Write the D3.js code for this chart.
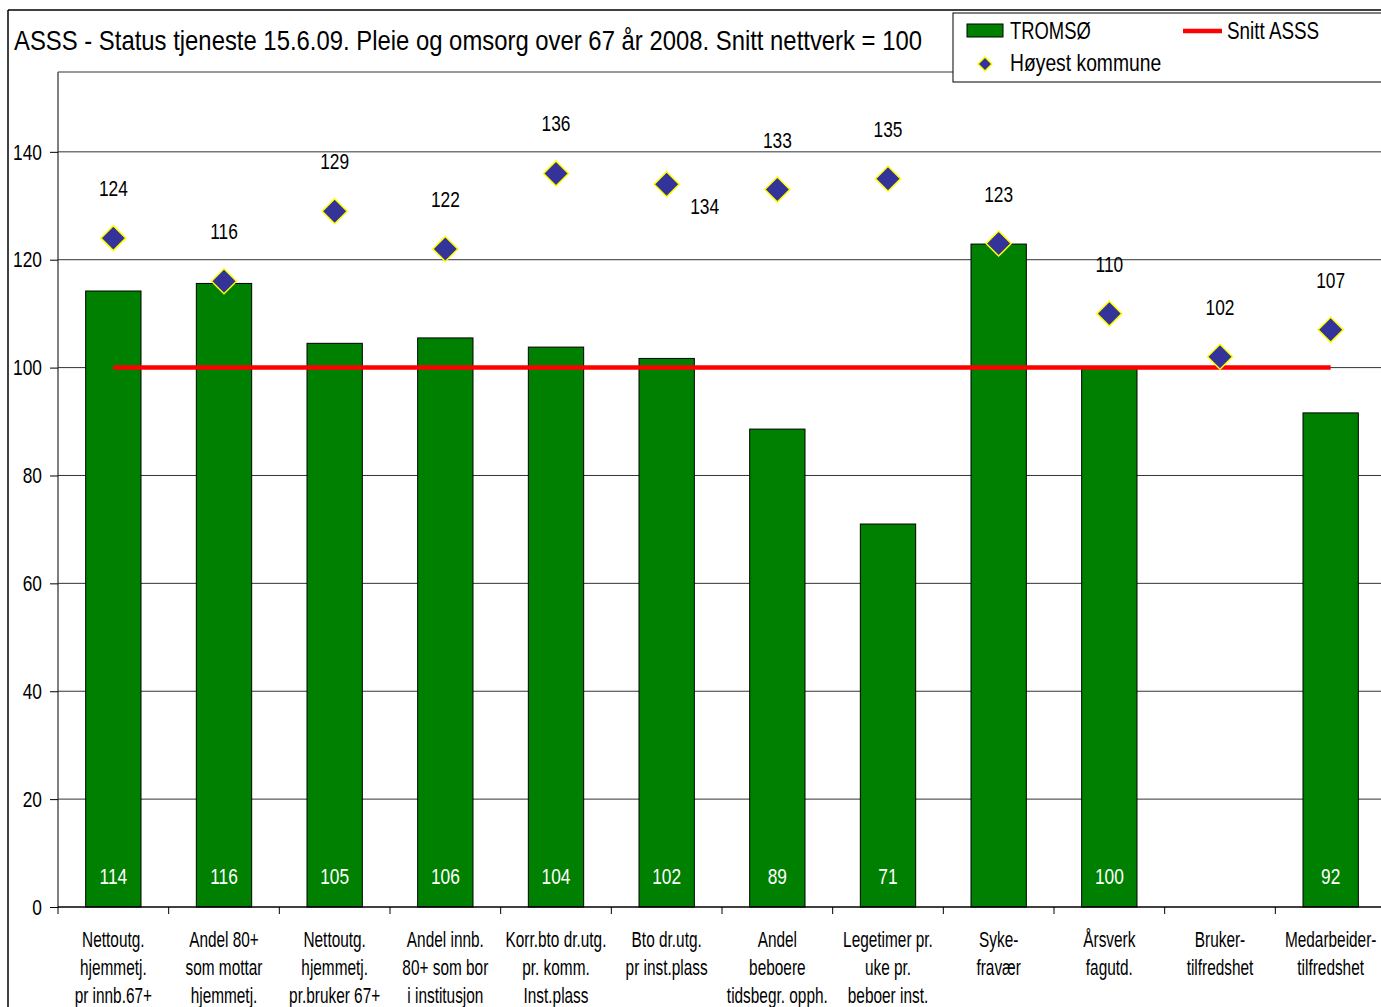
<!DOCTYPE html>
<html>
<head>
<meta charset="utf-8">
<script src="https://cdn.jsdelivr.net/npm/d3@7"></script>
<style>
  body { margin: 0; background: #fff; }
  svg { display: block; font-family: "Liberation Sans", Arial, sans-serif; }
  .grid line { stroke: #333; stroke-width: 1px; }
  .bar { fill: #008000; stroke: #000; stroke-width: 1px; }
  .marker { fill: #333399; stroke: #ffff00; stroke-width: 1.5px; }
</style>
</head>
<body>
<svg id="chart" width="1381" height="1007"></svg>
<script>
var title = "ASSS - Status tjeneste 15.6.09. Pleie og omsorg over 67 år 2008. Snitt nettverk = 100";

var categories = [
  ["Nettoutg.", "hjemmetj.", "pr innb.67+"],
  ["Andel 80+", "som mottar", "hjemmetj."],
  ["Nettoutg.", "hjemmetj.", "pr.bruker 67+"],
  ["Andel innb.", "80+ som bor", "i institusjon"],
  ["Korr.bto dr.utg.", "pr. komm.", "Inst.plass"],
  ["Bto dr.utg.", "pr inst.plass"],
  ["Andel", "beboere", "tidsbegr. opph."],
  ["Legetimer pr.", "uke pr.", "beboer inst."],
  ["Syke-", "fravær"],
  ["Årsverk", "fagutd."],
  ["Bruker-", "tilfredshet"],
  ["Medarbeider-", "tilfredshet"]
];

// TROMSØ (null = no bar)
var tromso = [114.2, 115.6, 104.5, 105.5, 103.8, 101.7, 88.6, 71.0, 122.9, 99.9, null, 91.6];
// show value label inside bar?
var tromsoLabel = [true, true, true, true, true, true, true, true, false, true, false, true];
// Høyest kommune
var hoyest = [124, 116, 129, 122, 136, 134, 133, 135, 123, 110, 102, 107];
// Snitt ASSS
var snitt = 100;
var yTicks = [0, 20, 40, 60, 80, 100, 120, 140];

var svg = d3.select("#chart");

var plot = { left: 58, top: 72, right: 1386, bottom: 907 };

var x = d3.scaleBand()
    .domain(d3.range(categories.length))
    .range([plot.left, plot.right])
    .paddingInner(0.5)
    .paddingOuter(0.25);

var xStep = d3.scaleBand()
    .domain(d3.range(categories.length))
    .range([plot.left, plot.right]);

var y = d3.scaleLinear().domain([0, 154.8]).range([plot.bottom, plot.top]);

function cx(i) { return x(i) + x.bandwidth() / 2; }

// narrow text helper (no Arial Narrow installed): scaleX via transform
function ntext(parent, px, py, str, size, anchor, sx) {
  return parent.append("text")
      .attr("transform", "translate(" + px + "," + py + ") scale(" + sx + ",1)")
      .attr("text-anchor", anchor || "start")
      .attr("font-size", size)
      .attr("fill", "#000")
      .text(str);
}

// outer chart border
svg.append("line").attr("x1", 8).attr("x2", 8).attr("y1", 10).attr("y2", 1007)
    .attr("stroke", "#000").attr("stroke-width", 1.5);
svg.append("line").attr("x1", 8).attr("x2", 1381).attr("y1", 10).attr("y2", 10)
    .attr("stroke", "#000").attr("stroke-width", 1.5);

// title
svg.append("text")
    .attr("x", 14).attr("y", 50)
    .attr("font-size", 28.5)
    .attr("textLength", 908)
    .attr("lengthAdjust", "spacingAndGlyphs")
    .attr("fill", "#000")
    .text(title);

// plot area border
svg.append("line").attr("x1", plot.left).attr("x2", 1381).attr("y1", plot.top).attr("y2", plot.top)
    .attr("stroke", "#777").attr("stroke-width", 1.5);
svg.append("line").attr("x1", plot.left).attr("x2", plot.left).attr("y1", plot.top).attr("y2", plot.bottom)
    .attr("stroke", "#555").attr("stroke-width", 1.5);

// gridlines
svg.append("g").attr("class", "grid")
  .selectAll("line").data(yTicks.filter(function(d) { return d > 0; })).enter()
  .append("line")
    .attr("x1", plot.left).attr("x2", 1381)
    .attr("y1", function(d) { return y(d); })
    .attr("y2", function(d) { return y(d); });

// y axis
var yAxis = d3.axisLeft(y).tickValues(yTicks).tickSize(8).tickPadding(8);
var gy = svg.append("g").attr("transform", "translate(" + plot.left + ",0)").call(yAxis);
gy.select(".domain").remove();
gy.selectAll(".tick line").attr("stroke", "#000");
gy.selectAll(".tick text")
    .attr("font-size", 22.5).attr("fill", "#000")
    .attr("font-family", "'Liberation Sans', Arial, sans-serif")
    .attr("x", -16 / 0.77)
    .attr("transform", "scale(0.77,1)");

// bars
svg.append("g").selectAll("rect")
    .data(tromso.map(function(v, i) { return { v: v, i: i }; }).filter(function(d) { return d.v !== null; }))
  .enter().append("rect")
    .attr("class", "bar")
    .attr("x", function(d) { return x(d.i); })
    .attr("width", x.bandwidth())
    .attr("y", function(d) { return y(d.v); })
    .attr("height", function(d) { return y(0) - y(d.v); });

// bar labels
var barLab = svg.append("g");
tromso.forEach(function(v, i) {
  if (v === null || !tromsoLabel[i]) return;
  ntext(barLab, cx(i), 884, Math.round(v), 22.5, "middle", 0.77).attr("fill", "#fff");
});

// x axis
svg.append("line").attr("x1", plot.left).attr("x2", 1381).attr("y1", plot.bottom).attr("y2", plot.bottom)
    .attr("stroke", "#000").attr("stroke-width", 1.5);
svg.append("g").selectAll("line")
    .data(d3.range(categories.length + 1))
  .enter().append("line")
    .attr("x1", function(i) { return plot.left + i * xStep.step(); })
    .attr("x2", function(i) { return plot.left + i * xStep.step(); })
    .attr("y1", plot.bottom).attr("y2", plot.bottom + 7)
    .attr("stroke", "#000");

var catG = svg.append("g");
categories.forEach(function(lines, i) {
  var t = ntext(catG, cx(i), 947, null, 22, "middle", 0.7);
  t.selectAll("tspan").data(lines).enter().append("tspan")
      .attr("x", 0)
      .attr("y", function(d, j) { return j * 28; })
      .text(function(d) { return d; });
});

// average line
svg.append("line")
    .attr("x1", cx(0))
    .attr("x2", cx(categories.length - 1))
    .attr("y1", y(snitt)).attr("y2", y(snitt))
    .attr("stroke", "#ff0000").attr("stroke-width", 4.5);

// markers
var diamond = "M0,-12.5L12.5,0L0,12.5L-12.5,0Z";
svg.append("g").selectAll("path")
    .data(hoyest)
  .enter().append("path")
    .attr("class", "marker")
    .attr("d", diamond)
    .attr("transform", function(d, i) { return "translate(" + cx(i) + "," + y(d) + ")"; });

var mLab = svg.append("g");
hoyest.forEach(function(v, i) {
  var dx = i === 5 ? 38 : 0, dy = i === 5 ? 30 : -42;
  ntext(mLab, cx(i) + dx, y(v) + dy, v, 22.5, "middle", 0.77);
});

// legend
var lg = svg.append("g");
lg.append("rect").attr("x", 953).attr("y", 13).attr("width", 440).attr("height", 69)
    .attr("fill", "#fff").attr("stroke", "#000").attr("stroke-width", 1);
lg.append("rect").attr("x", 967).attr("y", 24).attr("width", 36).attr("height", 13).attr("class", "bar");
ntext(lg, 1010, 39, "TROMSØ", 23, "start", 0.8);
lg.append("line").attr("x1", 1183).attr("x2", 1222).attr("y1", 31).attr("y2", 31)
    .attr("stroke", "#ff0000").attr("stroke-width", 4.5);
ntext(lg, 1227, 39, "Snitt ASSS", 23, "start", 0.82);
lg.append("path").attr("class", "marker").attr("d", "M0,-7L7,0L0,7L-7,0Z")
    .attr("transform", "translate(985,64)");
ntext(lg, 1010, 71, "Høyest kommune", 23, "start", 0.84);
</script>
</body>
</html>
